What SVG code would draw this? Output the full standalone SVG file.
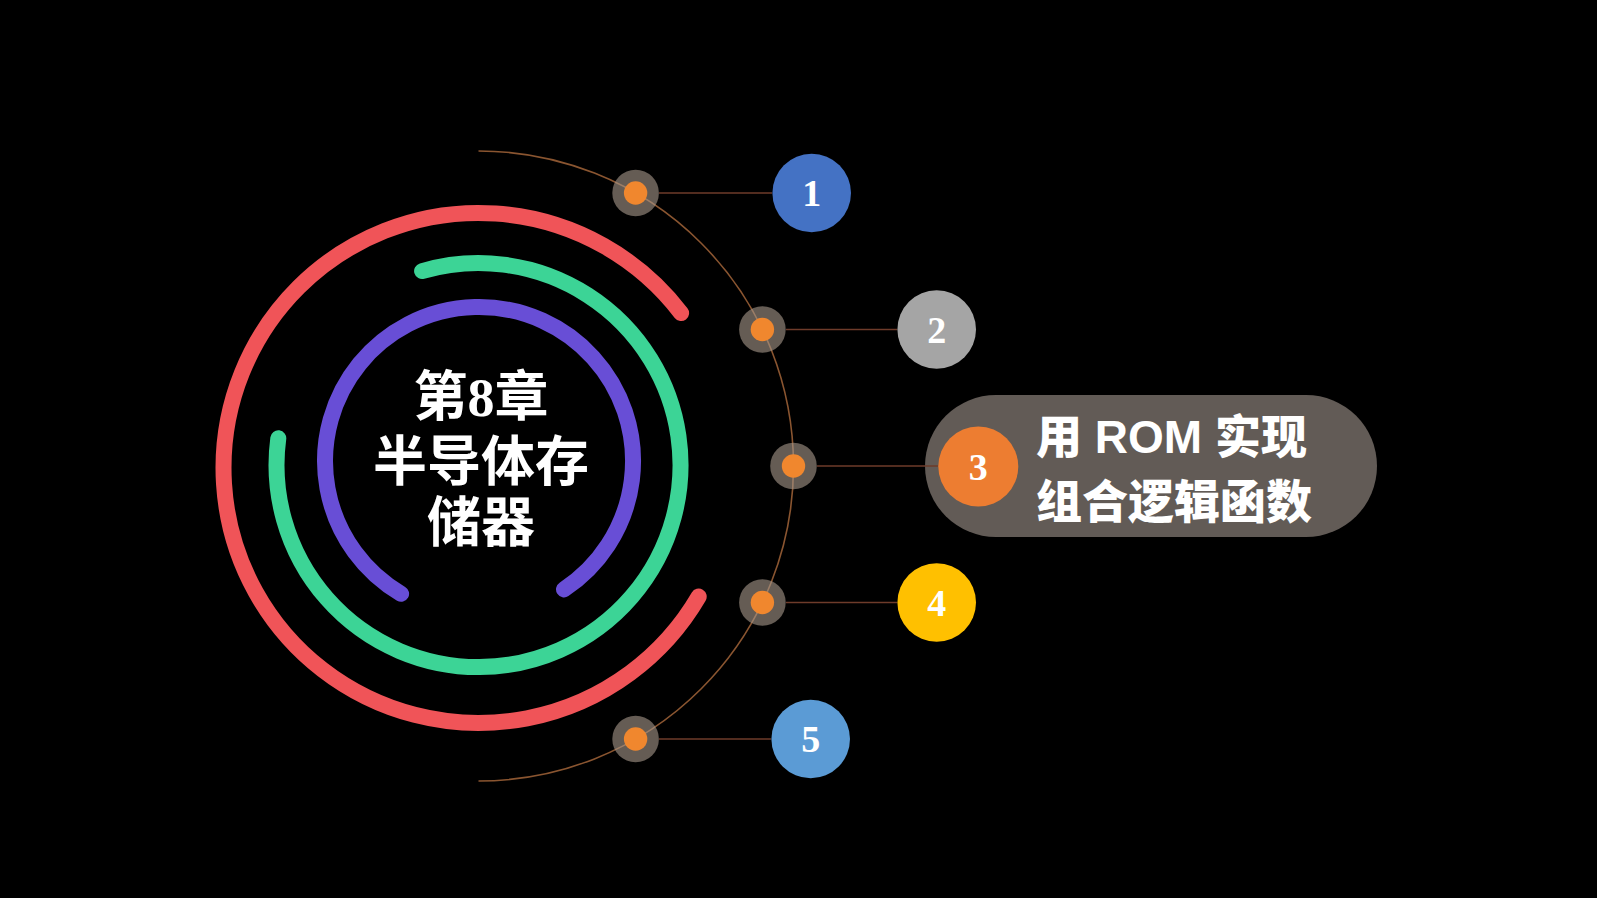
<svg xmlns="http://www.w3.org/2000/svg" width="1597" height="898" viewBox="0 0 1597 898">
<style>
.ring{fill:none;stroke-linecap:round;stroke-width:16}
.halo{fill:#a89a8c;fill-opacity:0.6}
.dot{fill:#F0872E}
.link{stroke:#6e3b2a;stroke-width:1.6;fill:none}
.num{font-family:"Liberation Serif","Times New Roman",serif;font-weight:700;font-size:38px;fill:#fff;text-anchor:middle;dominant-baseline:central}
.title{font-family:"Liberation Serif","Noto Sans CJK SC",sans-serif;font-weight:700;font-size:54px;fill:#fff;text-anchor:middle;dominant-baseline:central}
.label{font-family:"Liberation Sans","Noto Sans CJK SC",sans-serif;font-weight:900;font-size:46px;fill:#fff;dominant-baseline:central}
</style>
<rect x="0" y="0" width="1597" height="898" fill="#000"/>
<g id="rings">
<path class="ring" stroke="#F05458" d="M 698.7 596.6 A 255 255 0 1 1 681.1 313.1"/>
<path class="ring" stroke="#3CD496" stroke-width="17" d="M 422.1 271.1 A 202 202 0 1 1 278.3 438.3"/>
<path class="ring" stroke="#684ED6" d="M 401.1 593.8 A 154 154 0 1 1 564 589.4"/>
<path fill="none" stroke="#8a5530" stroke-width="1.6" d="M 478.5 151 A 315 315 0 0 1 478.5 781"/>
</g>
<g id="center">
<text class="title" x="481" y="398">第8章</text>
<text class="title" x="481" y="463">半导体存</text>
<text class="title" x="481" y="524">储器</text>
</g>
<g id="node3-pill">
<rect x="925" y="395" width="452" height="142" rx="71" ry="71" fill="#625b56"/>
</g>
<g id="connectors">
<line class="link" x1="659" y1="193" x2="772" y2="193"/>
<line class="link" x1="786" y1="329.5" x2="897" y2="329.5"/>
<line class="link" x1="817" y1="466" x2="938" y2="466"/>
<line class="link" x1="786" y1="602.5" x2="897" y2="602.5"/>
<line class="link" x1="659" y1="739" x2="771" y2="739"/>
</g>
<g id="dots">
<circle class="halo" cx="635.6" cy="193" r="23.3"/><circle class="dot" cx="635.6" cy="193" r="11.7"/>
<circle class="halo" cx="762.4" cy="329.5" r="23.3"/><circle class="dot" cx="762.4" cy="329.5" r="11.7"/>
<circle class="halo" cx="793.5" cy="466" r="23.3"/><circle class="dot" cx="793.5" cy="466" r="11.7"/>
<circle class="halo" cx="762.4" cy="602.5" r="23.3"/><circle class="dot" cx="762.4" cy="602.5" r="11.7"/>
<circle class="halo" cx="635.6" cy="739" r="23.3"/><circle class="dot" cx="635.6" cy="739" r="11.7"/>
</g>
<g id="node1">
<circle cx="811.7" cy="193" r="39.3" fill="#4472C4"/>
<text class="num" x="811.7" y="193">1</text>
</g>
<g id="node2">
<circle cx="936.7" cy="329.5" r="39.3" fill="#A5A5A5"/>
<text class="num" x="936.7" y="329.5">2</text>
</g>
<g id="node3">
<circle cx="978.3" cy="466.5" r="40" fill="#ED7D31"/>
<text class="num" x="978.3" y="466.5">3</text>
<text class="label" x="1036" y="437">用 ROM 实现</text>
<text class="label" x="1036" y="502">组合逻辑函数</text>
</g>
<g id="node4">
<circle cx="936.7" cy="602.5" r="39.3" fill="#FFC000"/>
<text class="num" x="936.7" y="602.5">4</text>
</g>
<g id="node5">
<circle cx="810.7" cy="739" r="39.3" fill="#5B9BD5"/>
<text class="num" x="810.7" y="739">5</text>
</g>
</svg>
